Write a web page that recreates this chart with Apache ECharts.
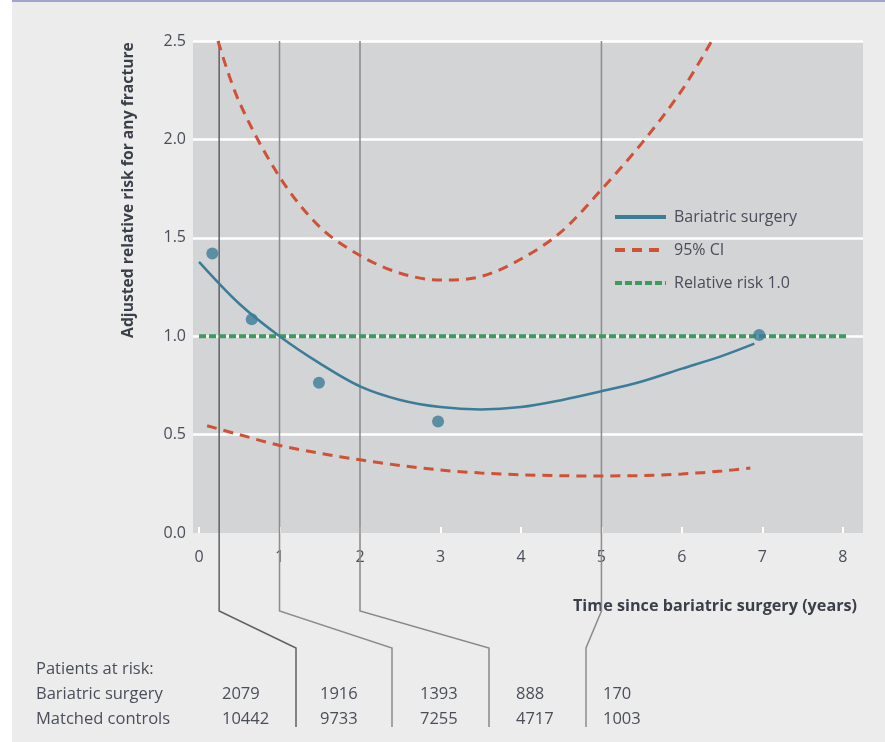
<!DOCTYPE html>
<html>
<head>
<meta charset="utf-8">
<title>Fracture risk after bariatric surgery</title>
<script src="https://cdn.jsdelivr.net/npm/echarts@6/dist/echarts.min.js"></script>
<style>
    html, body { margin: 0; padding: 0; background: #fff; }
    #main {
        position: absolute; left: 0; top: 0; width: 885px; height: 742px;
        background: linear-gradient(to right, #fff 0, #fff 12px, #ececec 12px);
    }
    #topline { position: absolute; left: 12px; top: 0; width: 873px; height: 2px; background: #9ea6cc; }
</style>
</head>
<body>
<div id="main"></div>
<div id="topline"></div>
<script>
// axis ticks
var yearTicks = [0, 1, 2, 3, 4, 5, 6, 7, 8];

// fitted curve (bariatric surgery)
var curveYears = [0, 0.5, 1, 1.5, 2, 2.5, 3, 3.5, 4, 4.5, 5, 5.5, 6, 6.5, 6.9];
var curveRisk = [1.378, 1.165, 1.0, 0.862, 0.745, 0.676, 0.64, 0.628, 0.64, 0.675, 0.72, 0.77, 0.835, 0.9, 0.962];

// 95% CI upper / lower
var upperYears = [0.235, 0.5, 1, 1.5, 2, 2.5, 3, 3.5, 4, 4.5, 5, 5.5, 6, 6.37];
var upperRisk = [2.5, 2.19, 1.81, 1.555, 1.41, 1.32, 1.285, 1.303, 1.392, 1.53, 1.745, 1.98, 2.25, 2.5];
var lowerYears = [0.1, 0.5, 1, 1.5, 2, 2.5, 3, 3.5, 4, 4.5, 5, 5.5, 6, 6.5, 6.85];
var lowerRisk = [0.545, 0.5, 0.445, 0.405, 0.372, 0.343, 0.32, 0.305, 0.296, 0.291, 0.29, 0.292, 0.3, 0.315, 0.33];

// observed points
var pointYears = [0.165, 0.655, 1.49, 2.97, 6.96];
var pointRisk = [1.42, 1.086, 0.764, 0.566, 1.006];

// reference line
var refYears = [0, 8.05];
var refRisk = [1.0, 1.0];

// patients at risk table
var markerYears = [0.25, 1, 2, 5];
var rowLabels = ['Bariatric surgery', 'Matched controls'];
var surgeryAtRisk = ['2079', '1916', '1393', '888', '170'];
var controlsAtRisk = ['10442', '9733', '7255', '4717', '1003'];

var FONT = '"Open Sans", "Noto Sans", sans-serif';
var TXT = '#4a4e5a';

function pairs(xs, ys) {
    var out = [];
    for (var i = 0; i < xs.length; i++) out.push([xs[i], ys[i]]);
    return out;
}

var main = {
    init: function () {
        var dom = document.getElementById('main');
        this.chart = echarts.init(dom, null, { renderer: 'canvas' });
        this.chart.setOption(this.buildOption());
        this.chart.setOption({ graphic: { elements: this.buildGraphics() } });
    },

    buildOption: function () {
        var ciStyle = { color: '#cf5136', width: 3, type: [10, 7] };
        return {
            animation: false,
            backgroundColor: 'transparent',
            grid: {
                left: 193, right: 22, top: 41, bottom: 209,
                show: true, backgroundColor: '#d3d4d6', borderWidth: 0
            },
            legend: {
                data: ['Bariatric surgery', '95% CI', 'Relative risk 1.0'],
                orient: 'vertical',
                left: 613, top: 209,
                padding: 0,
                itemWidth: 51, itemHeight: 14, itemGap: 17,
                itemStyle: { opacity: 0 },
                lineStyle: { width: 4 },
                textStyle: { fontFamily: FONT, fontSize: 16, color: TXT, padding: [0, 0, 0, 3] }
            },
            xAxis: {
                type: 'value',
                min: -0.075, max: 8.25,
                axisLine: { show: false },
                splitLine: { show: false },
                axisTick: {
                    show: true, inside: true, length: 6,
                    lineStyle: { color: '#fff', width: 2 },
                    customValues: yearTicks
                },
                axisLabel: {
                    customValues: yearTicks,
                    margin: 16, fontFamily: FONT, fontSize: 16, color: TXT
                }
            },
            yAxis: {
                type: 'value',
                min: 0, max: 2.5, interval: 0.5,
                axisLine: { show: false },
                axisTick: { show: false },
                splitLine: { showMinLine: false, lineStyle: { color: '#fff', width: 2.5 } },
                axisLabel: {
                    margin: 7, fontFamily: FONT, fontSize: 16, color: TXT,
                    formatter: function (v) { return v.toFixed(1); }
                }
            },
            series: [
                {
                    name: 'Bariatric surgery', type: 'line', smooth: 0.33, symbol: 'none',
                    lineStyle: { color: '#3b7c99', width: 2.5 }, itemStyle: { color: '#3b7c99' },
                    data: pairs(curveYears, curveRisk), z: 4
                },
                {
                    name: '95% CI', type: 'line', smooth: 0.33, symbol: 'none',
                    lineStyle: ciStyle, itemStyle: { color: '#cf5136' },
                    data: pairs(upperYears, upperRisk), z: 3
                },
                {
                    name: '95% CI', type: 'line', smooth: 0.33, symbol: 'none',
                    lineStyle: ciStyle, itemStyle: { color: '#cf5136' },
                    data: pairs(lowerYears, lowerRisk), z: 3
                },
                {
                    name: 'Relative risk 1.0', type: 'line', symbol: 'none',
                    lineStyle: { color: '#3d9a5c', width: 4, type: [7, 3] }, itemStyle: { color: '#3d9a5c' },
                    data: pairs(refYears, refRisk), z: 3
                },
                {
                    name: 'Observed', type: 'scatter', symbolSize: 12,
                    itemStyle: { color: '#3b7c99' },
                    data: pairs(pointYears, pointRisk), z: 5
                }
            ]
        };
    },

    //axis titles, at-risk table and connector lines
    buildGraphics: function () {
        var chart = this.chart;
        var els = [];
        var topY = chart.convertToPixel({ yAxisIndex: 0 }, 2.5);
        var sepX = [296, 392, 489, 586];
        var colX = [222, 320, 420, 516, 603];
        var lineColors = ['#606060', '#8c8c8c', '#888', '#8c8c8c'];

        for (var i = 0; i < markerYears.length; i++) {
            var px = chart.convertToPixel({ xAxisIndex: 0 }, markerYears[i]);
            els.push({
                type: 'polyline', z: 1,
                shape: { points: [[px, topY], [px, 611], [sepX[i], 648], [sepX[i], 727]] },
                style: { stroke: lineColors[i], lineWidth: 1.5, fill: null }
            });
        }

        els.push({
            type: 'text', x: 129, y: 190, rotation: Math.PI / 2,
            style: {
                text: 'Adjusted relative risk for any fracture', fill: '#3b3f4a',
                font: 'bold 15.7px ' + FONT, align: 'center', verticalAlign: 'middle',
                textAlign: 'center', textVerticalAlign: 'middle'
            }
        });
        els.push({
            type: 'text', x: 573, y: 606,
            style: {
                text: 'Time since bariatric surgery (years)', fill: '#3b3f4a',
                font: 'bold 16.2px ' + FONT, align: 'left', verticalAlign: 'middle',
                textAlign: 'left', textVerticalAlign: 'middle'
            }
        });

        var rowY = [694, 719];
        var rows = [surgeryAtRisk, controlsAtRisk];
        var addText = function (t, x, y) {
            els.push({
                type: 'text', x: x, y: y,
                style: {
                    text: t, fill: TXT, font: '16.5px ' + FONT,
                    align: 'left', verticalAlign: 'middle', textAlign: 'left', textVerticalAlign: 'middle'
                }
            });
        };
        addText('Patients at risk:', 36, 669);
        for (var r = 0; r < rows.length; r++) {
            addText(rowLabels[r], 36, rowY[r]);
            for (var c = 0; c < rows[r].length; c++) {
                addText(rows[r][c], colX[c], rowY[r]);
            }
        }
        return els;
    }
};

main.init();
</script>
</body>
</html>
